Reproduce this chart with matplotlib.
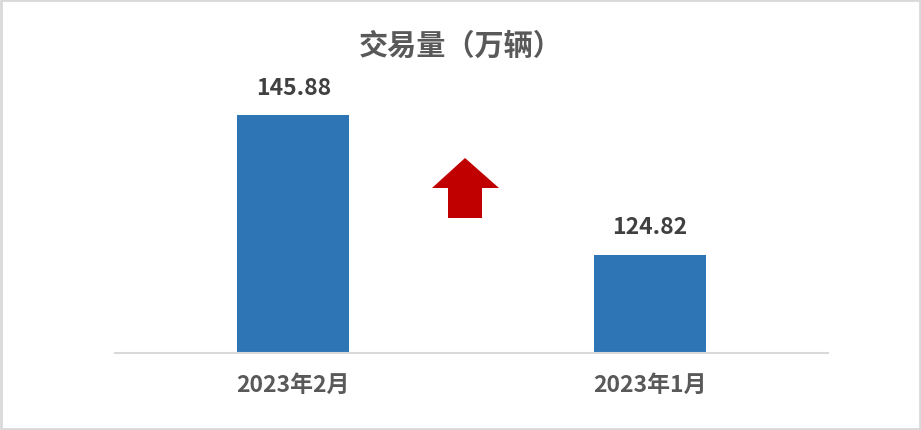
import matplotlib
matplotlib.use("Agg")
import matplotlib.pyplot as plt
from matplotlib.patches import Polygon, Rectangle

plt.rcParams['font.family'] = ['Noto Sans CJK SC', 'DejaVu Sans']

title = "交易量（万辆）"
categories = ["2023年2月", "2023年1月"]
values = [145.88, 124.82]
labels = ["145.88", "124.82"]

W, H = 921, 431
fig = plt.figure(figsize=(W / 100, H / 100), dpi=100)
fig.patch.set_facecolor("white")

left, right, bottom, top = 115, 828, 353.5, 89
ax = fig.add_axes([left / W, 1 - bottom / H, (right - left) / W, (bottom - top) / H])
x = list(range(len(categories)))
ax.bar(x, values, width=0.314, color="#2E75B6", zorder=2)
ax.set_xlim(-0.5, len(categories) - 0.5)
ax.set_ylim(110, 150)
for s in ["top", "right", "left"]:
    ax.spines[s].set_visible(False)
ax.spines["bottom"].set_color("#D9D9D9")
ax.spines["bottom"].set_linewidth(1.5)
ax.set_yticks([])
ax.set_xticks(x)
ax.set_xticklabels(categories, fontsize=16.5, fontweight="bold", color="#595959")
ax.tick_params(axis="x", length=0, pad=15)

for xi, v, lab in zip(x, values, labels):
    ax.annotate(lab, (xi, v), xytext=(0, 20), textcoords="offset points",
                ha="center", va="center", fontsize=16.5, fontweight="bold",
                color="#404040", annotation_clip=False)

fig.text(0.5, 1 - 46 / H, title, ha="center", va="center", fontsize=21,
         fontweight="bold", color="#595959")

# red up arrow (decoration)
pts = [(465, 159), (499, 189), (482, 189), (482, 219), (448, 219), (448, 189), (432, 189)]
arrow = Polygon([(px / W, 1 - py / H) for px, py in pts], closed=True,
                facecolor="#C00000", edgecolor="none", transform=fig.transFigure)
fig.patches.append(arrow)

border = Rectangle((1 / W, 1 / H), (W - 2) / W, (H - 2) / H, fill=False,
                   edgecolor="#D9D9D9", linewidth=2, transform=fig.transFigure)
fig.patches.append(border)

fig.savefig("out.png", dpi=100, facecolor="white")
